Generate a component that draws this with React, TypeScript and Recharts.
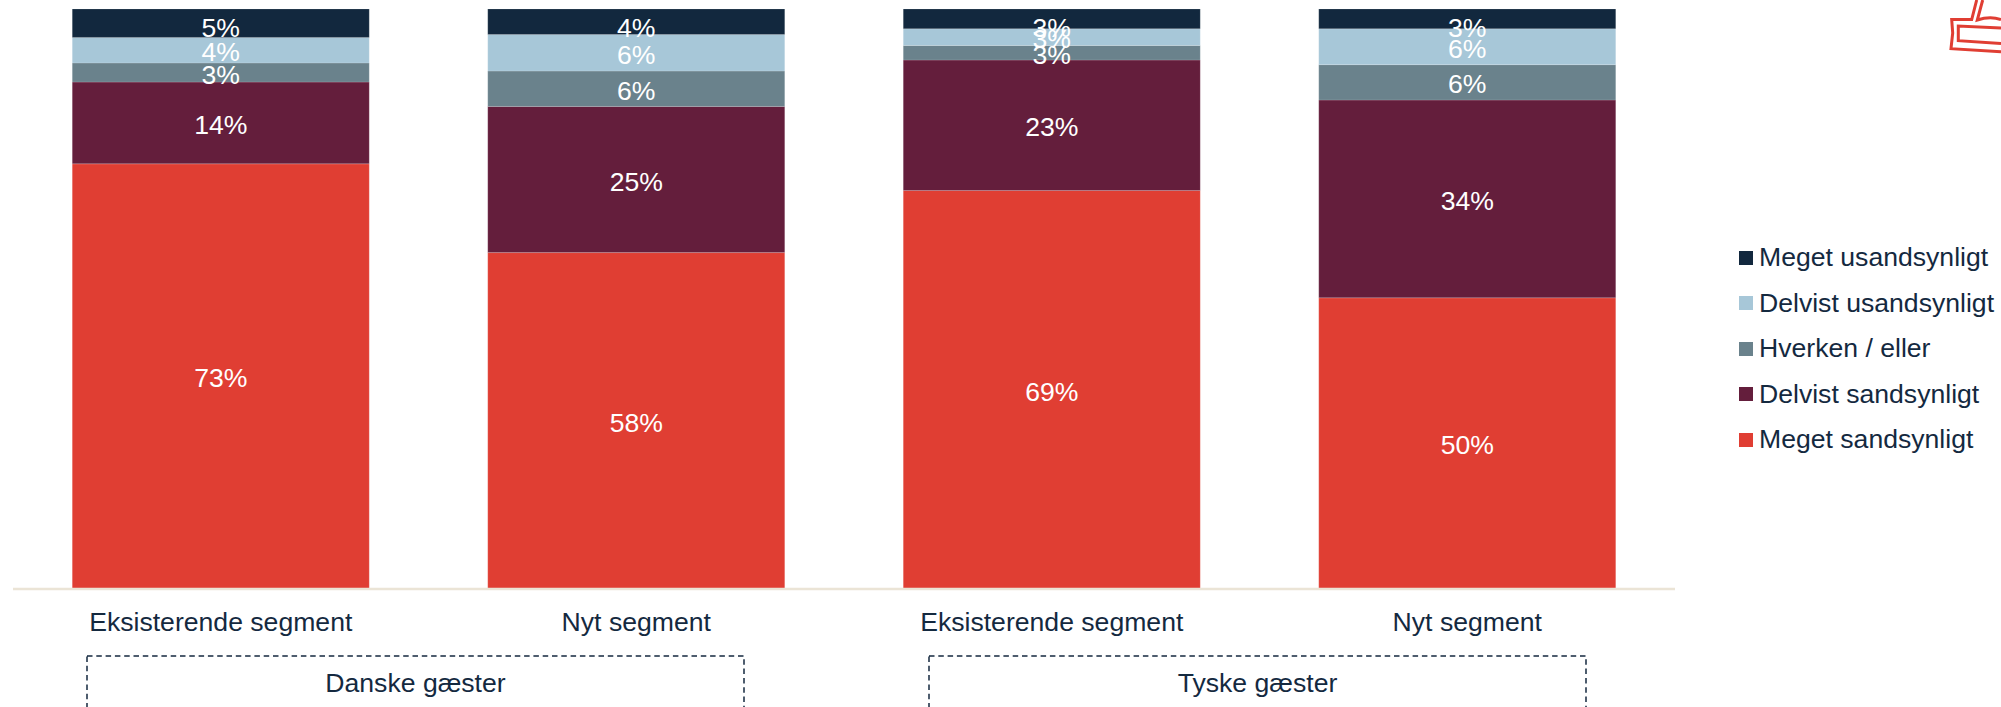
import { BarChart, Bar, XAxis, YAxis, Legend, LabelList } from 'recharts'

const categories = ['Eksisterende segment', 'Nyt segment', 'Eksisterende segment', 'Nyt segment']
const groups = ['Danske gæster', 'Tyske gæster']

const meget = [73.3, 58.0, 68.7, 50.2]
const delvist = [14.1, 25.2, 22.5, 34.1]
const hverken = [3.3, 6.1, 2.5, 6.1]
const delvistU = [4.4, 6.3, 2.9, 6.2]
const megetU = [4.9, 4.4, 3.4, 3.4]

const seriesNames = ['Meget sandsynligt', 'Delvist sandsynligt', 'Hverken / eller', 'Delvist usandsynligt', 'Meget usandsynligt']
const seriesColors = ['#e03e33', '#641e3c', '#6a828c', '#a7c7d8', '#12283e']

const data = categories.map((name, i) => ({
  name,
  s0: meget[i],
  s1: delvist[i],
  s2: hverken[i],
  s3: delvistU[i],
  s4: megetU[i],
}))

const FONT = '"Liberation Sans", Arial, sans-serif'
const NAVY = '#14293f'
const TEXT_SIZE = 26.6

function segmentLabel(props: any) {
  const { x, y, width, height, value } = props
  return (
    <text x={x + width / 2} y={y + height / 2 + 2} fill="#fff" fontSize={TEXT_SIZE} fontFamily={FONT} textAnchor="middle" dominantBaseline="central">
      {Math.round(value)}%
    </text>
  )
}

// the top labels sit at the same height in every column
function topLabel(props: any) {
  const { x, y, width, value } = props
  return (
    <text x={x + width / 2} y={y + 19} fill="#fff" fontSize={TEXT_SIZE} fontFamily={FONT} textAnchor="middle" dominantBaseline="central">
      {Math.round(value)}%
    </text>
  )
}

function LegendList() {
  const rows = seriesNames.map((name, i) => ({ name, color: seriesColors[i] })).reverse()
  return (
    <div>
      {rows.map((r) => (
        <div key={r.name} style={{ display: 'flex', alignItems: 'center', height: 45.5, fontFamily: FONT, fontSize: TEXT_SIZE, color: NAVY, whiteSpace: 'nowrap' }}>
          <span style={{ width: 14, height: 14, background: r.color, marginRight: 6, flex: 'none' }} />
          {r.name}
        </div>
      ))}
    </div>
  )
}

const boxLeft = [87, 929]

export default function App() {
  return (
    <div style={{ position: 'absolute', left: 0, top: 0, width: 2001, height: 707, overflow: 'hidden', background: '#fff' }}>
      <BarChart
        width={2001}
        height={707}
        data={data}
        margin={{ top: 9, right: 326, bottom: 0, left: 13 }}
        barCategoryGap="14.26%"
      >
        <YAxis hide domain={[0, 100]} />
        <XAxis
          dataKey="name"
          interval={0}
          axisLine={{ stroke: '#ebe4d6', strokeWidth: 2.5 }}
          tickLine={false}
          height={118}
          tick={{ fontSize: TEXT_SIZE, fill: NAVY, fontFamily: FONT }}
          tickMargin={17}
        />
        <Legend
          layout="vertical"
          align="center"
          verticalAlign="middle"
          wrapperStyle={{ left: 1739, top: 235, width: 262 }}
          content={() => <LegendList />}
        />
        {seriesNames.map((name, i) => (
          <Bar
            key={name}
            dataKey={`s${i}`}
            name={name}
            stackId="a"
            fill={seriesColors[i]}
            stroke="#fff"
            strokeOpacity={0.2}
            strokeWidth={0.75}
            isAnimationActive={false}
          >
            <LabelList dataKey={`s${i}`} content={i === 4 ? topLabel : segmentLabel} />
          </Bar>
        ))}
      </BarChart>

      <svg width={2001} height={707} style={{ position: 'absolute', left: 0, top: 0, pointerEvents: 'none' }}>
        {groups.map((g, i) => (
          <g key={g}>
            <rect x={boxLeft[i]} y={656} width={657} height={90} fill="none" stroke={NAVY} strokeWidth={1.5} strokeDasharray="5.5 3.8" />
            <text x={boxLeft[i] + 328.5} y={683} fill={NAVY} fontSize={TEXT_SIZE} fontFamily={FONT} textAnchor="middle" dominantBaseline="central">
              {g}
            </text>
          </g>
        ))}
        <g fill="none" stroke="#e03e33" strokeWidth={3}>
          <path d="M1976.7,0 L1971.7,19.5 L1951.7,19.5 L1952.7,33 L1951,48.7 L2001,51.7" />
          <path d="M1982.7,0 L1977.3,20 Q1990,16 2001,19.5" />
          <path d="M2001,28 L1958.3,26 L1958.3,40.7 L2001,43.5" />
        </g>
      </svg>
    </div>
  )
}
